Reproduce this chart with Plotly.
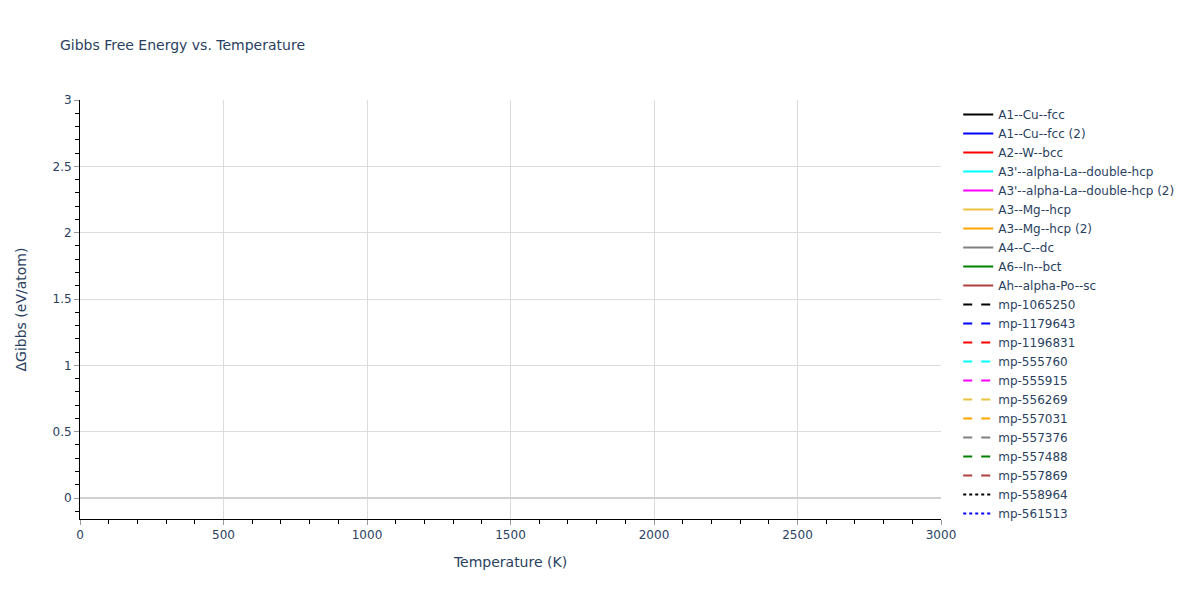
import plotly.graph_objects as go

# Legend entries (the reference shows no visible curves inside the plotted range)
names = ["A1--Cu--fcc", "A1--Cu--fcc (2)", "A2--W--bcc", "A3'--alpha-La--double-hcp",
         "A3'--alpha-La--double-hcp (2)", "A3--Mg--hcp", "A3--Mg--hcp (2)", "A4--C--dc",
         "A6--In--bct", "Ah--alpha-Po--sc", "mp-1065250", "mp-1179643", "mp-1196831",
         "mp-555760", "mp-555915", "mp-556269", "mp-557031", "mp-557376", "mp-557488",
         "mp-557869", "mp-558964", "mp-561513"]
colors = ["black", "blue", "red", "cyan", "magenta", "#EBC23F", "orange", "gray",
          "green", "#B04040", "black", "blue", "red", "cyan", "magenta", "#EBC23F",
          "orange", "gray", "green", "#B04040", "black", "blue"]
dashes = ["solid"] * 10 + ["dash"] * 10 + ["dot"] * 2

# No readable values: every series is empty within the visible window
temperature = [None]
gibbs = [None]

fig = go.Figure()
for n, c, d in zip(names, colors, dashes):
    fig.add_trace(go.Scatter(x=temperature, y=gibbs, mode="lines", name=n,
                             line=dict(color=c, dash=d, width=2), showlegend=True))

fig.update_layout(
    template="plotly_white",
    width=1200, height=600,
    margin=dict(l=72, r=267, t=92, b=89, autoexpand=False),
    font=dict(family="Verdana, DejaVu Sans, sans-serif", color="#2a3f5f", size=12),
    title=dict(text="Gibbs Free Energy vs. Temperature", x=0.0433, xanchor="left",
               y=0.938, yanchor="middle", font=dict(size=14)),
    showlegend=True,
    legend=dict(font=dict(size=12), x=1.02, y=1.0, yanchor="top", maxheight=600),
    xaxis=dict(title=dict(text="Temperature (K)", font=dict(size=14)), range=[0, 3000],
               dtick=500, showline=True, linecolor="black", ticks="outside",
               tickcolor="#999", gridcolor="#dcdcdc",
               minor=dict(ticks="outside", dtick=100, tickcolor="black", ticklen=4),
               zeroline=False),
    yaxis=dict(title=dict(text="ΔGibbs (eV/atom)", font=dict(size=14), standoff=22),
               range=[-0.158, 3], dtick=0.5,
               showline=True, linecolor="black", ticks="outside", tickcolor="#999",
               gridcolor="#dcdcdc",
               minor=dict(ticks="outside", dtick=0.1, tickcolor="black", ticklen=4),
               zeroline=True, zerolinecolor="#d0d0d0", zerolinewidth=2),
)

fig.write_html("out.html")
